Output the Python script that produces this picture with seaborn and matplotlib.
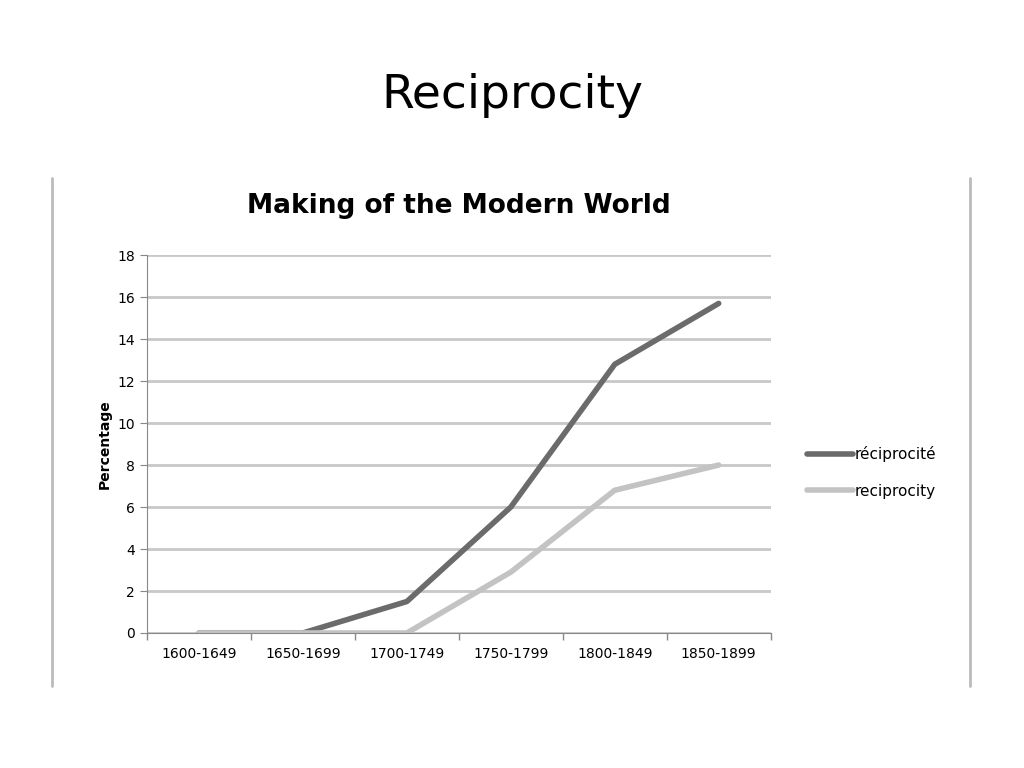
import pandas as pd
import matplotlib
matplotlib.use("Agg")
import matplotlib.pyplot as plt
from matplotlib.lines import Line2D
import seaborn as sns

# ── data ──
periods = ["1600-1649", "1650-1699", "1700-1749", "1750-1799", "1800-1849", "1850-1899"]
reciprocite = [0, 0, 1.5, 6.0, 12.8, 15.7]
reciprocity = [0, 0, 0, 2.9, 6.8, 8.0]

df = pd.DataFrame({
    "value": reciprocite + reciprocity,
    "series": ["réciprocité"] * 6 + ["reciprocity"] * 6,
})
df["x"] = list(range(6)) * 2

sns.set_style("white", {"xtick.bottom": True, "ytick.left": True,
                        "text.color": "black", "xtick.color": "black",
                        "ytick.color": "black", "axes.labelcolor": "black"})
fig = plt.figure(figsize=(10.24, 7.68), dpi=100)
ax = fig.add_axes([0.1436, 0.1758, 0.609, 0.492])

sns.lineplot(data=df, x="x", y="value", hue="series",
             palette={"réciprocité": "#6b6b6b", "reciprocity": "#c3c3c3"},
             linewidth=4, ax=ax, legend=False)

ax.set_xlim(-0.5, 5.5)
ax.set_ylim(0, 18)
ax.set_yticks(range(0, 19, 2))
ax.set_xticks(range(6))
ax.set_xticklabels(periods)
ax.set_xticks([i - 0.5 for i in range(7)], minor=True)
ax.tick_params(axis="x", which="major", length=0, labelsize=10, pad=10)
ax.tick_params(axis="x", which="minor", bottom=True, length=5, width=1,
               color="#888888", direction="out")
ax.tick_params(axis="y", length=5, color="#888888", labelsize=10)
ax.yaxis.grid(True, color="#c8c8c8", linewidth=2)
ax.set_axisbelow(True)
for s in ["top", "right"]:
    ax.spines[s].set_visible(False)
for s in ["left", "bottom"]:
    ax.spines[s].set_color("#888888")
ax.set_xlabel("")
ax.set_ylabel("Percentage", fontsize=10, fontweight="bold", color="black")
ax.set_title("Making of the Modern World", fontsize=19, fontweight="bold",
             pad=30, color="black")

handles = [Line2D([], [], color="#6b6b6b", lw=4), Line2D([], [], color="#c3c3c3", lw=4)]
fig.legend(handles, ["réciprocité", "reciprocity"], loc="center left",
           bbox_to_anchor=(0.775, 0.385), frameon=False, fontsize=11,
           handlelength=3, handletextpad=0.1, labelspacing=1.4)

fig.text(0.5, 0.875, "Reciprocity", ha="center", va="center", fontsize=34, color="black")
for xf in [52 / 1024, 970 / 1024]:
    fig.add_artist(Line2D([xf, xf], [1 - 178 / 768, 1 - 686 / 768], color="#bbbbbb", lw=2))

fig.savefig("out.png", dpi=100)
